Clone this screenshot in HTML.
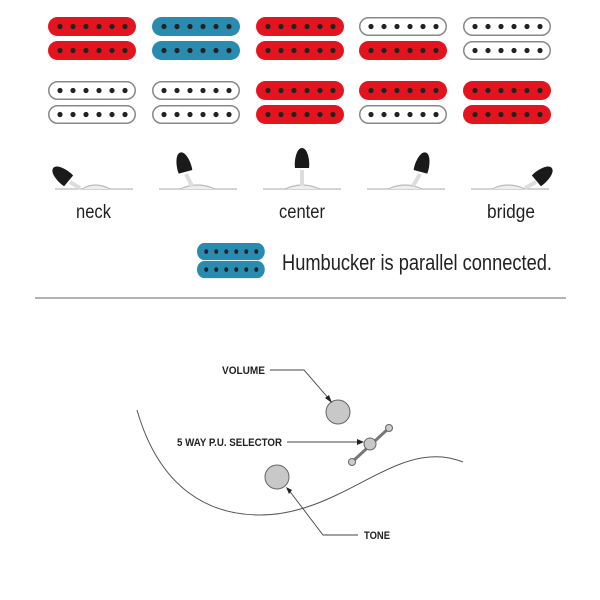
<!DOCTYPE html>
<html><head><style>body{margin:0;background:#fff}svg{display:block}</style></head><body>
<svg width="600" height="600" viewBox="0 0 600 600" xmlns="http://www.w3.org/2000/svg">
<defs>
<g id="dots"><circle cx="12" cy="9.5" r="2.6" fill="#222"/><circle cx="25" cy="9.5" r="2.6" fill="#222"/><circle cx="38" cy="9.5" r="2.6" fill="#222"/><circle cx="51" cy="9.5" r="2.6" fill="#222"/><circle cx="64" cy="9.5" r="2.6" fill="#222"/><circle cx="77" cy="9.5" r="2.6" fill="#222"/></g>
<g id="R"><rect x="0" y="0" width="88" height="19" rx="9.5" fill="#e3141e"/><use href="#dots"/></g>
<g id="B"><rect x="0" y="0" width="88" height="19" rx="9.5" fill="#2a8bb0"/><use href="#dots"/></g>
<g id="W"><rect x="0.75" y="0.75" width="86.5" height="17.5" rx="8.75" fill="#fff" stroke="#888" stroke-width="1.5"/><use href="#dots"/></g>
<g id="knob"><path d="M0,-14 C6,-14 8,0 7,6 L-7,6 C-8,0 -6,-14 0,-14Z" fill="#1a1a1a"/></g>
</defs>
<use href="#R" x="48" y="17"/><use href="#R" x="48" y="41"/>
<use href="#B" x="152" y="17"/><use href="#B" x="152" y="41"/>
<use href="#R" x="256" y="17"/><use href="#R" x="256" y="41"/>
<use href="#W" x="359" y="17"/><use href="#R" x="359" y="41"/>
<use href="#W" x="463" y="17"/><use href="#W" x="463" y="41"/>
<use href="#W" x="48" y="81"/><use href="#W" x="48" y="105"/>
<use href="#W" x="152" y="81"/><use href="#W" x="152" y="105"/>
<use href="#R" x="256" y="81"/><use href="#R" x="256" y="105"/>
<use href="#R" x="359" y="81"/><use href="#W" x="359" y="105"/>
<use href="#R" x="463" y="81"/><use href="#R" x="463" y="105"/>
<g stroke="#bbb" stroke-width="1.2" fill="#eee">
<line x1="55" y1="189" x2="133" y2="189"/><path d="M82,189 Q95,181 110,189" />
<line x1="159" y1="189" x2="237" y2="189"/><path d="M180,189 Q198,181 215,189"/>
<line x1="263" y1="189" x2="341" y2="189"/><path d="M285,189 Q302,181 320,189"/>
<line x1="367" y1="189" x2="445" y2="189"/><path d="M388,189 Q405,181 422,189"/>
<line x1="471" y1="189" x2="549" y2="189"/><path d="M492,189 Q508,181 525,189"/>
</g>
<g stroke="#ddd" stroke-width="4" fill="none">
<line x1="70" y1="182" x2="80" y2="188"/>
<line x1="186" y1="174" x2="192" y2="186"/>
<line x1="302" y1="170" x2="302" y2="186"/>
<line x1="420" y1="174" x2="413" y2="186"/>
<line x1="536" y1="182" x2="525" y2="188"/>
</g>
<use href="#knob" transform="translate(64,177) rotate(-50)"/>
<use href="#knob" transform="translate(184,166) rotate(-15)"/>
<use href="#knob" transform="translate(302,162)"/>
<use href="#knob" transform="translate(422,166) rotate(15)"/>
<use href="#knob" transform="translate(541,177) rotate(50)"/>
<g font-family="Liberation Sans, sans-serif" font-size="19" fill="#222" lengthAdjust="spacingAndGlyphs">
<text x="76" y="218" textLength="35" lengthAdjust="spacingAndGlyphs">neck</text>
<text x="279" y="218" textLength="46" lengthAdjust="spacingAndGlyphs">center</text>
<text x="487" y="218" textLength="48" lengthAdjust="spacingAndGlyphs">bridge</text>
</g>
<use href="#B" transform="translate(197,243) scale(0.77,0.9)"/>
<use href="#B" transform="translate(197,261) scale(0.77,0.9)"/>
<text x="282" y="270" font-family="Liberation Sans, sans-serif" font-size="22" fill="#222" textLength="270" lengthAdjust="spacingAndGlyphs">Humbucker is parallel connected.</text>
<line x1="35" y1="298" x2="566" y2="298" stroke="#999" stroke-width="1.5"/>
<path d="M137,410 C160,490 210,515 260,515 C330,515 380,460 430,457 C445,456 455,459 463,462" fill="none" stroke="#555" stroke-width="1"/>
<circle cx="338" cy="412" r="12" fill="#c8c8c8" stroke="#666"/>
<circle cx="277" cy="477" r="12" fill="#c8c8c8" stroke="#666"/>
<line x1="352" y1="462" x2="389" y2="428" stroke="#777" stroke-width="3"/>
<circle cx="370" cy="444" r="6" fill="#c8c8c8" stroke="#666"/>
<circle cx="389" cy="428" r="3.5" fill="#ccc" stroke="#666"/>
<circle cx="352" cy="462" r="3.5" fill="#ccc" stroke="#666"/>
<g stroke="#444" fill="none" stroke-width="0.9">
<polyline points="270,370 304,370 330,400"/>
<line x1="287" y1="442" x2="360" y2="442"/>
<polyline points="358,535 323,535 288,489"/>
</g>
<g fill="#222">
<polygon points="332,403 325,398 329,395"/>
<polygon points="364,442 357,439 357,445"/>
<polygon points="286,487 292,490 289,494"/>
</g>
<g font-family="Liberation Sans, sans-serif" font-size="11" font-weight="bold" fill="#222">
<text x="222" y="374" textLength="43" lengthAdjust="spacingAndGlyphs">VOLUME</text>
<text x="177" y="446" textLength="105" lengthAdjust="spacingAndGlyphs">5 WAY P.U. SELECTOR</text>
<text x="364" y="539" textLength="26" lengthAdjust="spacingAndGlyphs">TONE</text>
</g>
</svg>
</body></html>
